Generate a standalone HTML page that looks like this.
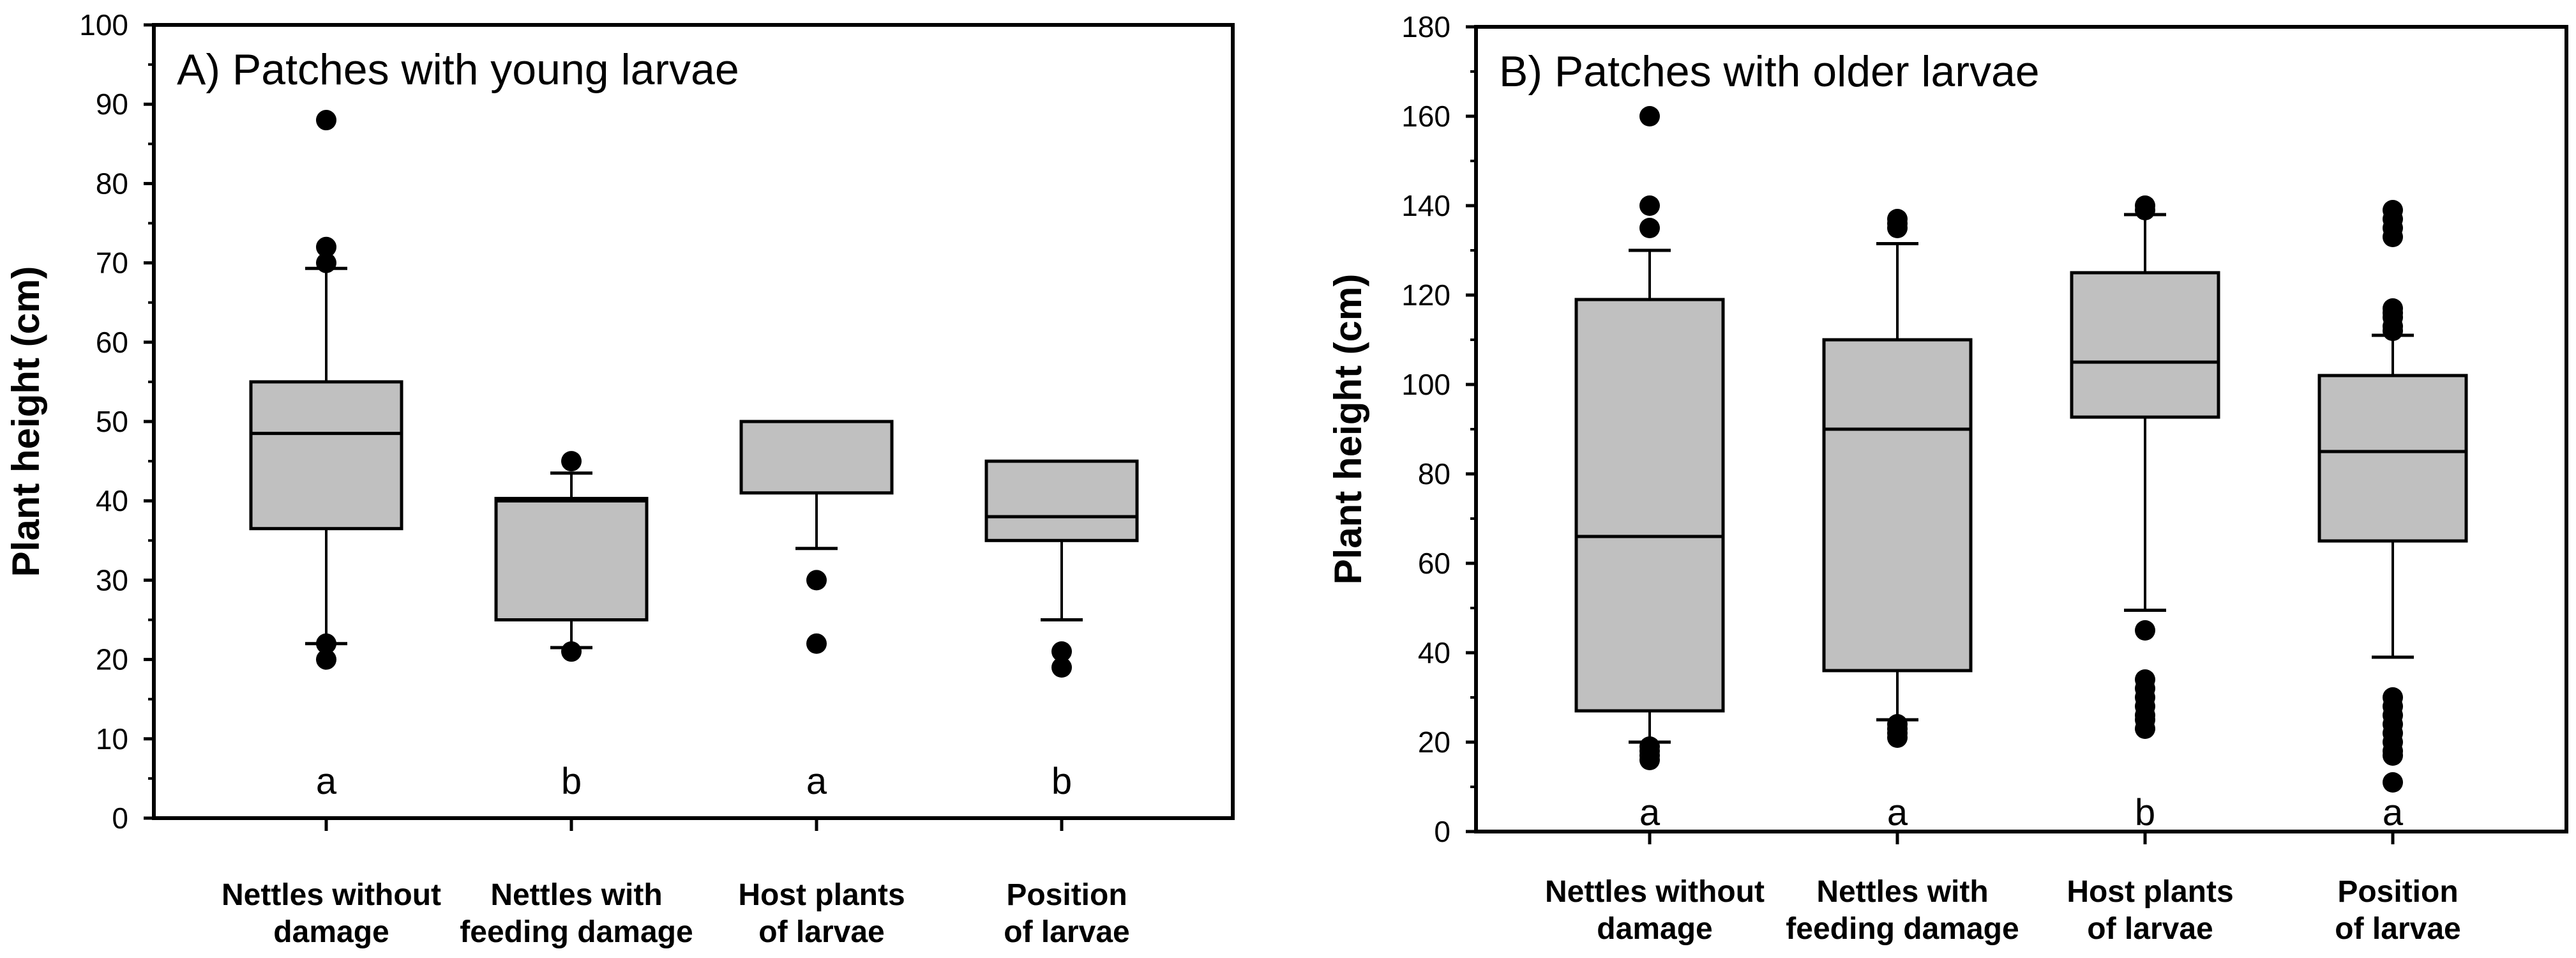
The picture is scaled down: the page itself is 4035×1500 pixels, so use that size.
<!DOCTYPE html>
<html><head><meta charset="utf-8"><style>
html,body{margin:0;padding:0;background:#fff}
svg{display:block}
text{font-family:"Liberation Sans Narrow","Liberation Sans",sans-serif;fill:#000}
</style></head><body>
<svg id="chart" width="4035" height="1500" viewBox="0 0 4035 1500" xmlns="http://www.w3.org/2000/svg"></svg>
<script>
const categories = [["Nettles without","damage"],["Nettles with","feeding damage"],["Host plants","of larvae"],["Position","of larvae"]];
// Panel A
const aQ1 = [36.5, 25, 41, 35];
const aMed = [48.5, 40.0, 50, 38];
const aQ3 = [55, 40.3, 50, 45];
const aLo = [22, 21.5, 34, 25];
const aHi = [69.3, 43.5, 50, 45];
const aOut = [[88,72,70,22,20],[45,21],[30,22],[21,19]];
const aLetters = ["a","b","a","b"];
const aTicks = [0,10,20,30,40,50,60,70,80,90,100];
// Panel B
const bQ1 = [27, 36, 92.7, 65];
const bMed = [66, 90, 105, 85];
const bQ3 = [119, 110, 125, 102];
const bLo = [20, 25, 49.5, 39];
const bHi = [130, 131.5, 138, 111];
const bOut = [[160,140,135,19,18,17,16],[137,136,135,24,23,22,21],[140,139,45,34,32,30,28,26,25,23],[139,137,135,133,117,116,115,113,112,30,28,26,24,22,20,18,17,11]];
const bLetters = ["a","a","b","a"];
const bTicks = [0,20,40,60,80,100,120,140,160,180];

const svg = document.getElementById('chart');
const NS = 'http://www.w3.org/2000/svg';
function mk(tag, attrs, parent){const e=document.createElementNS(NS,tag);for(const k in attrs)e.setAttribute(k,attrs[k]);(parent||svg).appendChild(e);return e;}

function panel(cfg){
  const g = mk('g',{});
  
  
  const y = v => cfg.bottom - (v - 0) / cfg.max * (cfg.bottom - cfg.top);
  const x = i => cfg.x0 + i * cfg.dx;
  const fr = mk('rect',{x:cfg.left,y:cfg.top,width:cfg.right-cfg.left,height:cfg.bottom-cfg.top,fill:'none',stroke:'#000','stroke-width':6},g);
  
  
  cfg.ticks.forEach((t,i)=>{
    const yy = y(t);
    const tk = mk('line',{x1:cfg.left-16,x2:cfg.left,y1:yy,y2:yy,stroke:'#000','stroke-width':5},g);
    
    
    if(i<cfg.ticks.length-1){
      const m=y(t+cfg.step/2);
      const mt = mk('line',{x1:cfg.left-9,x2:cfg.left,y1:m,y2:m,stroke:'#000','stroke-width':4},g);
      
      
    }
    const tl = mk('text',{x:cfg.left-40,y:yy+16,'text-anchor':'end','font-size':46},g);
    tl.textContent = t;
    
    
  });
  const cy=(cfg.top+cfg.bottom)/2, cx=cfg.left-180;
  const yt = mk('text',{x:cx,y:cy,transform:`rotate(-90 ${cx} ${cy})`,'text-anchor':'middle','font-size':60,'font-weight':'bold',style:'font-family:"Liberation Sans",sans-serif'},g);
  yt.textContent='Plant height (cm)';
  
  
  const tt = mk('text',{x:cfg.left+36,y:cfg.top+93,'font-size':68},g);
  tt.textContent = cfg.title;
  
  
  const bw = cfg.bw, cw = 66;
  categories.forEach((c,i)=>{
    const cxp = x(i);
    const xt = mk('line',{x1:cxp,x2:cxp,y1:cfg.bottom,y2:cfg.bottom+20,stroke:'#000','stroke-width':5},g);
    
    
    c.forEach((ln,j)=>{
      const lt = mk('text',{x:cxp+8,y:cfg.labY+j*58,'text-anchor':'middle','font-size':48,'font-weight':'bold'},g);
      lt.textContent = ln;
      
      
    });
    const wl = mk('line',{x1:cxp,x2:cxp,y1:y(cfg.lo[i]),y2:y(cfg.q1[i]),stroke:'#000','stroke-width':4},g);
    
    
    const wh = mk('line',{x1:cxp,x2:cxp,y1:y(cfg.hi[i]),y2:y(cfg.q3[i]),stroke:'#000','stroke-width':4},g);
    
    
    if(cfg.lo[i]<cfg.q1[i]){
      const c1 = mk('line',{x1:cxp-cw/2,x2:cxp+cw/2,y1:y(cfg.lo[i]),y2:y(cfg.lo[i]),stroke:'#000','stroke-width':5},g);
      
      
    }
    if(cfg.hi[i]>cfg.q3[i]){
      const c2 = mk('line',{x1:cxp-cw/2,x2:cxp+cw/2,y1:y(cfg.hi[i]),y2:y(cfg.hi[i]),stroke:'#000','stroke-width':5},g);
      
      
    }
    const bx = mk('rect',{x:cxp-bw/2,y:y(cfg.q3[i]),width:bw,height:y(cfg.q1[i])-y(cfg.q3[i]),fill:'#c0c0c0',stroke:'#000','stroke-width':5},g);
    
    
    const md = mk('line',{x1:cxp-bw/2,x2:cxp+bw/2,y1:y(cfg.med[i]),y2:y(cfg.med[i]),stroke:'#000','stroke-width':5},g);
    
    
    cfg.out[i].forEach(v=>{
      const p = mk('circle',{cx:cxp,cy:y(v),r:16,fill:'#000'},g);
      
      
    });
    const lt = mk('text',{x:cxp,y:cfg.letY,'text-anchor':'middle','font-size':58},g);
    lt.textContent = cfg.letters[i];
    
    
  });
}
panel({name:'panel-a',title:'A) Patches with young larvae',left:241,right:1931,top:39,bottom:1281,max:100,step:10,ticks:aTicks,
  x0:511,dx:384,bw:236,q1:aQ1,med:aMed,q3:aQ3,lo:aLo,hi:aHi,out:aOut,letters:aLetters,letY:1243,labY:1417});
panel({name:'panel-b',title:'B) Patches with older larvae',left:2312,right:4020,top:42,bottom:1302,max:180,step:20,ticks:bTicks,
  x0:2584,dx:388,bw:230,q1:bQ1,med:bMed,q3:bQ3,lo:bLo,hi:bHi,out:bOut,letters:bLetters,letY:1292,labY:1412});
</script>
</body></html>
